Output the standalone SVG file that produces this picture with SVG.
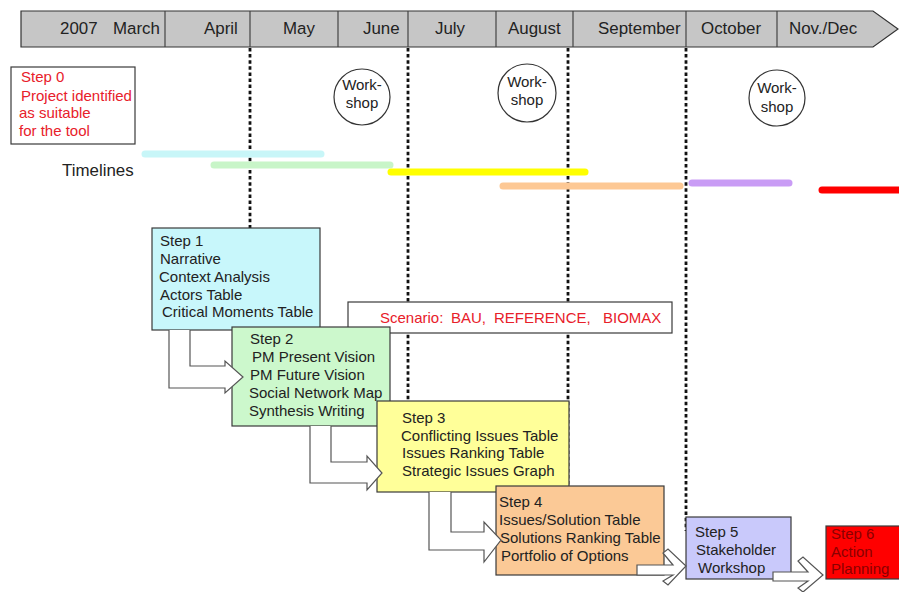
<svg xmlns="http://www.w3.org/2000/svg" width="899" height="592" viewBox="0 0 899 592">
<style>
text{font-family:"Liberation Sans",Arial,sans-serif;fill:#222}
.m{font-size:16.9px}
.s{font-size:15px}
.red{fill:#e8202a}
.box{stroke:#3a3a3a;stroke-width:1.2}
.dot{stroke:#111;stroke-width:2.8;stroke-dasharray:3.5 2.6;fill:none}
.tl{stroke-width:7;stroke-linecap:round;fill:none}
.arr{fill:#fff;stroke:#555;stroke-width:1.2;stroke-linejoin:miter}
.ws{fill:#fff;stroke:#333;stroke-width:1.2}
</style>
<rect width="899" height="592" fill="#fff"/>

<g id="timeline-header">
<polygon points="21,11 873,11 898,29 873,47 21,47" fill="#c6c6c6" stroke="#333" stroke-width="1.2"/>
<g stroke="#444" stroke-width="1.2">
<line x1="165" y1="11" x2="165" y2="47"/>
<line x1="250" y1="11" x2="250" y2="47"/>
<line x1="338" y1="11" x2="338" y2="47"/>
<line x1="408" y1="11" x2="408" y2="47"/>
<line x1="496" y1="11" x2="496" y2="47"/>
<line x1="573" y1="11" x2="573" y2="47"/>
<line x1="686" y1="11" x2="686" y2="47"/>
<line x1="777" y1="11" x2="777" y2="47"/>
</g>
<text class="m" x="60" y="34">2007</text>
<text class="m" x="113" y="34">March</text>
<text class="m" x="204" y="34">April</text>
<text class="m" x="283" y="34">May</text>
<text class="m" x="363" y="34">June</text>
<text class="m" x="435" y="34">July</text>
<text class="m" x="508" y="34">August</text>
<text class="m" x="598" y="34">September</text>
<text class="m" x="701" y="34">October</text>
<text class="m" x="789" y="34">Nov./Dec</text>
</g>

<g id="milestones">
<line class="dot" x1="250" y1="48" x2="250" y2="228"/>
<line class="dot" x1="408" y1="48" x2="408" y2="401"/>
<line class="dot" x1="568" y1="48" x2="568" y2="486"/>
<line class="dot" x1="686" y1="48" x2="686" y2="531"/>
</g>

<g id="timelines">
<text class="m" x="62" y="176">Timelines</text>
<line class="tl" x1="145" y1="154" x2="321" y2="154" stroke="#c8f6f8"/>
<line class="tl" x1="214" y1="165" x2="390" y2="165" stroke="#c8f5c8"/>
<line class="tl" x1="391" y1="172" x2="585" y2="172" stroke="#ffff00"/>
<line class="tl" x1="503" y1="186" x2="680" y2="186" stroke="#fdc894"/>
<line class="tl" x1="692" y1="183" x2="789" y2="183" stroke="#c99cf5"/>
<line class="tl" x1="822" y1="190" x2="905" y2="190" stroke="#ff0000"/>
</g>

<g id="step0">
<rect class="box" x="11" y="67" width="124" height="77" fill="#fff"/>
<text class="s red" x="21" y="82">Step 0</text>
<text class="s red" x="21" y="101">Project identified</text>
<text class="s red" x="19" y="118">as suitable</text>
<text class="s red" x="19" y="136">for the tool</text>
</g>

<g id="workshop1">
<circle class="ws" cx="362" cy="97" r="28"/>
<text class="s" x="362" y="90" text-anchor="middle">Work-</text>
<text class="s" x="362" y="108" text-anchor="middle">shop</text>
</g>
<g id="workshop2">
<circle class="ws" cx="527" cy="93" r="29"/>
<text class="s" x="527" y="87" text-anchor="middle">Work-</text>
<text class="s" x="527" y="105" text-anchor="middle">shop</text>
</g>
<g id="workshop3">
<circle class="ws" cx="777" cy="98" r="28"/>
<text class="s" x="777" y="93" text-anchor="middle">Work-</text>
<text class="s" x="777" y="112" text-anchor="middle">shop</text>
</g>

<g id="step1">
<rect class="box" x="152" y="228" width="168" height="102" fill="#c8f7fb"/>
<text class="s" x="160" y="246">Step 1</text>
<text class="s" x="160" y="264">Narrative</text>
<text class="s" x="159" y="282">Context Analysis</text>
<text class="s" x="160" y="300">Actors Table</text>
<text class="s" x="162" y="317">Critical Moments Table</text>
</g>

<g id="scenario">
<rect class="box" x="348" y="302" width="324" height="31" fill="#fff"/>
<text class="s red" x="380" y="323">Scenario:</text>
<text class="s red" x="451" y="323">BAU,</text>
<text class="s red" x="494" y="323">REFERENCE,</text>
<text class="s red" x="603" y="323">BIOMAX</text>
</g>

<g id="step2">
<rect class="box" x="232" y="327" width="158" height="99" fill="#ccf8cc"/>
<text class="s" x="250" y="344">Step 2</text>
<text class="s" x="252" y="362">PM Present Vision</text>
<text class="s" x="250" y="380">PM Future Vision</text>
<text class="s" x="249" y="398">Social Network Map</text>
<text class="s" x="249" y="416">Synthesis Writing</text>
</g>

<g id="step3">
<rect class="box" x="377" y="401" width="192" height="91" fill="#ffff99"/>
<text class="s" x="402" y="423">Step 3</text>
<text class="s" x="401" y="441">Conflicting Issues Table</text>
<text class="s" x="402" y="458">Issues Ranking Table</text>
<text class="s" x="402" y="476">Strategic Issues Graph</text>
</g>

<g id="step4">
<rect class="box" x="496" y="486" width="168" height="89" fill="#fbc996"/>
<text class="s" x="499" y="507">Step 4</text>
<text class="s" x="499" y="525">Issues/Solution Table</text>
<text class="s" x="500" y="543">Solutions Ranking Table</text>
<text class="s" x="501" y="561">Portfolio of Options</text>
</g>

<g id="step5">
<rect class="box" x="686" y="517" width="105" height="62" fill="#c9c9fb"/>
<text class="s" x="695" y="537">Step 5</text>
<text class="s" x="696" y="555">Stakeholder</text>
<text class="s" x="698" y="573">Workshop</text>
</g>

<g id="step6">
<rect class="box" x="826" y="526" width="80" height="53" fill="#ff0000"/>
<text class="s" x="831" y="539" style="fill:#8a0000">Step 6</text>
<text class="s" x="831" y="557" style="fill:#8a0000">Action</text>
<text class="s" x="831" y="574" style="fill:#8a0000">Planning</text>
</g>

<g id="connectors">
<path class="arr" d="M190,330 L190,366 L225,366 L225,361 L243,377 L225,393 L225,388 L169,388 L169,330"/>
<path class="arr" d="M331,426 L331,462 L367,462 L367,456 L382,473 L367,490 L367,483 L310,483 L310,426"/>
<path class="arr" d="M451,492 L451,532 L484,532 L484,522 L501,540 L484,562 L484,550 L429,550 L429,492"/>
<path class="arr" d="M637,565 L673,565 L663,553 L668,549 L686,566 L668,585 L663,581 L673,575 L637,575 Z"/>
<path class="arr" d="M773,572 L808,572 L798,561 L803,557 L823,575 L803,592 L798,588 L808,581 L773,581 Z"/>
</g>
</svg>
